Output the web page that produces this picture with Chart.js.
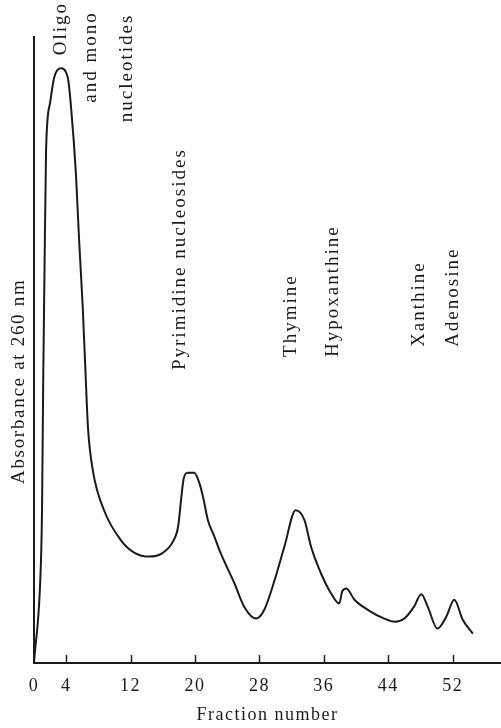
<!DOCTYPE html>
<html>
<head>
<meta charset="utf-8">
<script src="https://cdn.jsdelivr.net/npm/chart.js@4/dist/chart.umd.min.js"></script>
<style>
  html, body { margin: 0; padding: 0; background: #fff; }
  canvas { display: block; }
</style>
</head>
<body>
<canvas id="chart" width="501" height="728"></canvas>
<script>
// Fraction number (x) and absorbance at 260 nm (relative units, 0-100)
const fractions = [
  0, 0.87, 1.0, 1.15, 1.3, 1.5, 2.0, 2.5, 3.3, 4.2, 4.6, 5.2, 5.6, 6.05, 6.4,
  6.7, 7.3, 8.7, 10.8, 12.5, 14.3, 16.0, 17.3, 17.9, 18.3, 18.6, 19.1, 19.9,
  20.6, 21.0, 21.6, 22.4, 23.2, 24.9, 26.1, 27.6, 28.6, 29.9, 31.1, 32.5,
  33.6, 34.4, 35.65, 36.9, 37.9, 38.3, 38.8, 39.8, 41.45, 43.5, 44.8, 46.0,
  47.2, 48.1, 48.9, 50.1, 51.2, 52.2, 53.25, 54.5
];
const absorbance = [
  0, 16.5, 25, 46, 62, 82, 89.5, 93.5, 95, 93.5, 88.8, 78.3, 67.6, 56.9, 46.3,
  37.7, 30.8, 24.4, 19.6, 17.6, 17.0, 17.6, 19.5, 21.8, 26.5, 29.5, 30.4, 30.4,
  28.5, 26.5, 22.8, 20.2, 17.5, 12.7, 9.0, 7.1, 8.5, 13.3, 18.6, 24.4,
  22.8, 18.6, 14.3, 11.1, 9.5, 11.5, 11.9, 10.1, 8.5, 7.1, 6.6, 7.1,
  9.0, 11.0, 9.0, 5.5, 7.4, 10.1, 6.9, 4.7
];

const tickValues = [0, 4, 12, 20, 28, 36, 44, 52];

// Peak labels, anchored in data coordinates (fraction, absorbance) at the start of the text
const peakLabels = ['Oligo', 'and mono', 'nucleotides', 'Pyrimidine nucleosides',
  'Thymine', 'Hypoxanthine', 'Xanthine', 'Adenosine'];
const peakLabelX = [3.95, 7.7, 12.2, 18.7, 32.6, 37.7, 48.4, 52.6];
const peakLabelY = [97.1, 89.5, 86.4, 46.8, 48.9, 48.9, 50.5, 50.5];

const SERIF = '"Liberation Serif", "DejaVu Serif", serif';
const INK = '#1a1a1a';

const points = fractions.map((f, i) => ({ x: f, y: absorbance[i] }));

// Draws the inward tick marks, the rotated peak labels and the y axis title
const annotatePlugin = {
  id: 'annotate',
  beforeDraw(chart) {
    chart.ctx.letterSpacing = '1.5px';
  },
  afterDraw(chart) {
    const { ctx, chartArea } = chart;
    const xs = chart.scales.x;
    const ys = chart.scales.y;
    ctx.save();
    ctx.strokeStyle = INK;
    ctx.lineWidth = 1.5;
    tickValues.filter(v => v > 0).forEach(v => {
      const px = Math.round(xs.getPixelForValue(v)) + 0.5;
      ctx.beginPath();
      ctx.moveTo(px, chartArea.bottom);
      ctx.lineTo(px, chartArea.bottom - 8);
      ctx.stroke();
    });

    ctx.fillStyle = INK;
    ctx.font = '19px ' + SERIF;
    ctx.letterSpacing = '2px';
    ctx.textAlign = 'left';
    ctx.textBaseline = 'alphabetic';
    peakLabels.forEach((text, i) => {
      ctx.save();
      ctx.translate(xs.getPixelForValue(peakLabelX[i]), ys.getPixelForValue(peakLabelY[i]));
      ctx.rotate(-Math.PI / 2);
      ctx.fillText(text, 0, 0);
      ctx.restore();
    });

    // y axis title
    ctx.save();
    ctx.letterSpacing = '1.7px';
    ctx.textAlign = 'center';
    ctx.translate(chartArea.left - 10, ys.getPixelForValue(45));
    ctx.rotate(-Math.PI / 2);
    ctx.fillText('Absorbance at 260 nm', 0, 0);
    ctx.restore();
    ctx.restore();
  }
};

new Chart(document.getElementById('chart'), {
  type: 'line',
  data: {
    datasets: [{
      data: points,
      borderColor: INK,
      borderWidth: 2,
      pointRadius: 0,
      fill: false,
      cubicInterpolationMode: 'monotone'
    }]
  },
  options: {
    responsive: false,
    animation: false,
    devicePixelRatio: 1,
    layout: { padding: { top: 37, left: 0, right: 0, bottom: 0 } },
    plugins: {
      legend: { display: false },
      tooltip: { enabled: false }
    },
    scales: {
      x: {
        type: 'linear',
        min: 0,
        max: 58,
        grid: { display: false, drawTicks: false },
        border: { display: true, color: INK, width: 2 },
        afterBuildTicks: scale => {
          scale.ticks = tickValues.map(v => ({ value: v }));
        },
        afterFit: scale => { scale.height = 65; },
        ticks: {
          autoSkip: false,
          maxRotation: 0,
          padding: 12,
          color: INK,
          font: { family: SERIF, size: 18 }
        },
        title: {
          display: true,
          text: 'Fraction number',
          color: INK,
          font: { family: SERIF, size: 18 },
          padding: { top: 0, bottom: 2 }
        }
      },
      y: {
        min: 0,
        max: 100,
        grid: { display: false, drawTicks: false },
        border: { display: true, color: INK, width: 2 },
        ticks: { display: false },
        afterFit: scale => { scale.width = 34; }
      }
    }
  },
  plugins: [annotatePlugin]
});
</script>
</body>
</html>
